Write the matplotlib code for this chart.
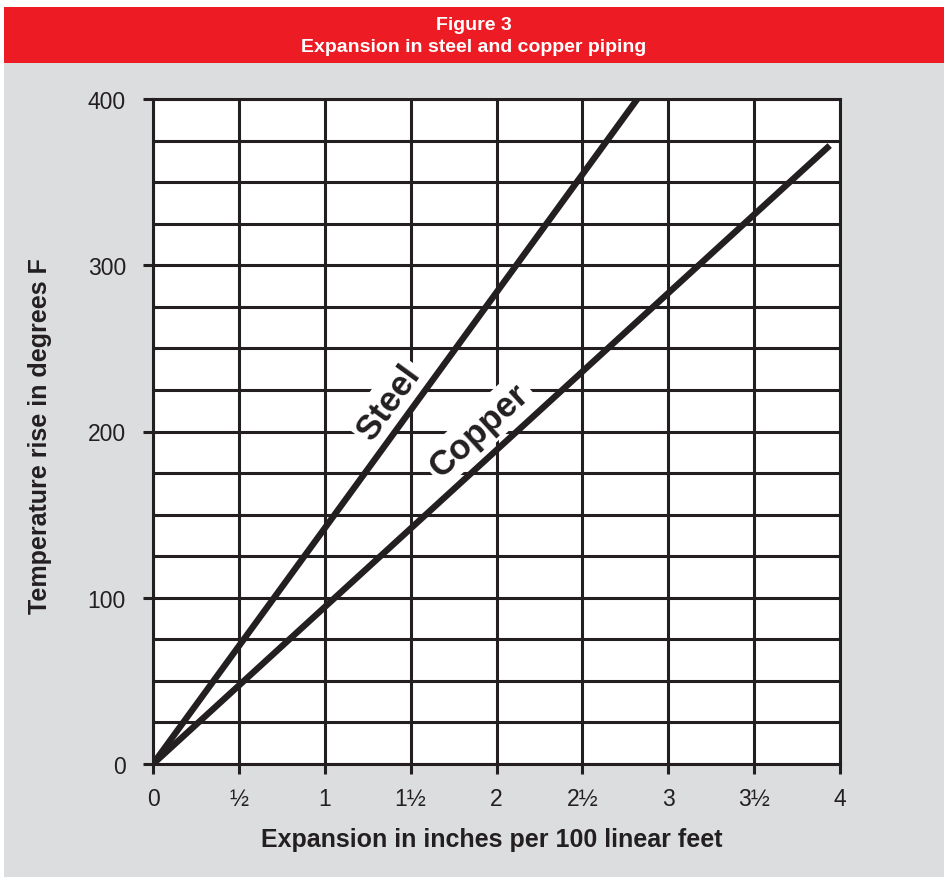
import matplotlib
matplotlib.use("Agg")
import matplotlib.pyplot as plt
import numpy as np

# ---- data ----
steel_x = [0, 2.82]
steel_y = [0, 400]
copper_x = [0, 3.94]
copper_y = [0, 372]
x_ticks = [0, 0.5, 1, 1.5, 2, 2.5, 3, 3.5, 4]
x_tick_labels = ["0", "½", "1", "1½", "2", "2½", "3", "3½", "4"]
y_ticks = [0, 100, 200, 300, 400]
y_minor = [25, 50, 75, 125, 150, 175, 225, 250, 275, 325, 350, 375]
title_lines = ["Figure 3", "Expansion in steel and copper piping"]
x_label = "Expansion in inches per 100 linear feet"
y_label = "Temperature rise in degrees F"

W, H = 944, 878
plt.rcParams['font.family'] = ['Liberation Sans', 'DejaVu Sans']
fig = plt.figure(figsize=(W / 100, H / 100), dpi=100, facecolor="white")

INK = "#231F20"
GRAY = "#DCDDDF"
RED = "#ED1C24"

# background panels
fig.patches.append(plt.Rectangle((4 / W, 0), 1 - 4 / W, 1 - 64 / H,
                                 transform=fig.transFigure, facecolor=GRAY,
                                 edgecolor="none", zorder=-5))
fig.patches.append(plt.Rectangle((4 / W, 1 - 64 / H), 1 - 4 / W, 56 / H,
                                 transform=fig.transFigure, facecolor=RED,
                                 edgecolor="none", zorder=-5))
fig.text(0.5 + 2 / W, 1 - 25 / H, title_lines[0], color="white", ha="center",
         va="center", fontsize=14, fontweight="bold")
fig.text(0.5 + 2 / W, 1 - 48 / H, title_lines[1], color="white", ha="center",
         va="center", fontsize=14, fontweight="bold")

ax = fig.add_axes([153 / W, (H - 765) / H, 687 / W, 665 / H])
ax.set_zorder(2)
ax.set_facecolor("white")
ax.set_xlim(0, 4)
ax.set_ylim(0, 400)

lw = 2.2
ax.set_xticks(x_ticks)
ax.set_xticklabels(x_tick_labels)
ax.set_yticks(y_ticks)
ax.set_yticks(y_minor, minor=True)
ax.tick_params(axis="both", which="major", length=7.5, width=lw, color=INK,
               labelsize=16.5, labelcolor=INK, direction="out")
ax.tick_params(axis="y", which="major", pad=12)
ax.tick_params(axis="x", which="major", pad=9)
ax.tick_params(axis="y", which="minor", length=0)
ax.grid(True, which="both", color=INK, linewidth=lw)
ax.set_axisbelow(True)
for s in ax.spines.values():
    s.set_color(INK)
    s.set_linewidth(lw)

ax.plot(steel_x, steel_y, color=INK, linewidth=4.6, solid_capstyle="butt", zorder=3)
ax.plot(copper_x, copper_y, color=INK, linewidth=4.6, solid_capstyle="butt", zorder=3)

# angle of lines on screen
def screen_angle(xs, ys):
    p = ax.transData.transform(np.column_stack([xs, ys]))
    return np.degrees(np.arctan2(p[1, 1] - p[0, 1], p[1, 0] - p[0, 0]))

ax.text(1.37, 218, "Steel", rotation=screen_angle(steel_x, steel_y),
        rotation_mode="anchor", ha="center", va="center", fontsize=25,
        fontweight="bold", color=INK, zorder=2,
        bbox=dict(facecolor="white", edgecolor="none", pad=3))
ax.text(1.9, 201, "Copper", rotation=screen_angle(copper_x, copper_y),
        rotation_mode="anchor", ha="center", va="center", fontsize=25,
        fontweight="bold", color=INK, zorder=2,
        bbox=dict(facecolor="white", edgecolor="none", pad=3))

fig.text(492 / W, 1 - 840 / H, x_label, ha="center", va="center",
         fontsize=18, fontweight="bold", color=INK)
fig.text(40 / W, 1 - 436 / H, y_label, ha="center", va="center",
         rotation=90, fontsize=18, fontweight="bold", color=INK)

fig.savefig("out.png", dpi=100, facecolor=fig.get_facecolor())
